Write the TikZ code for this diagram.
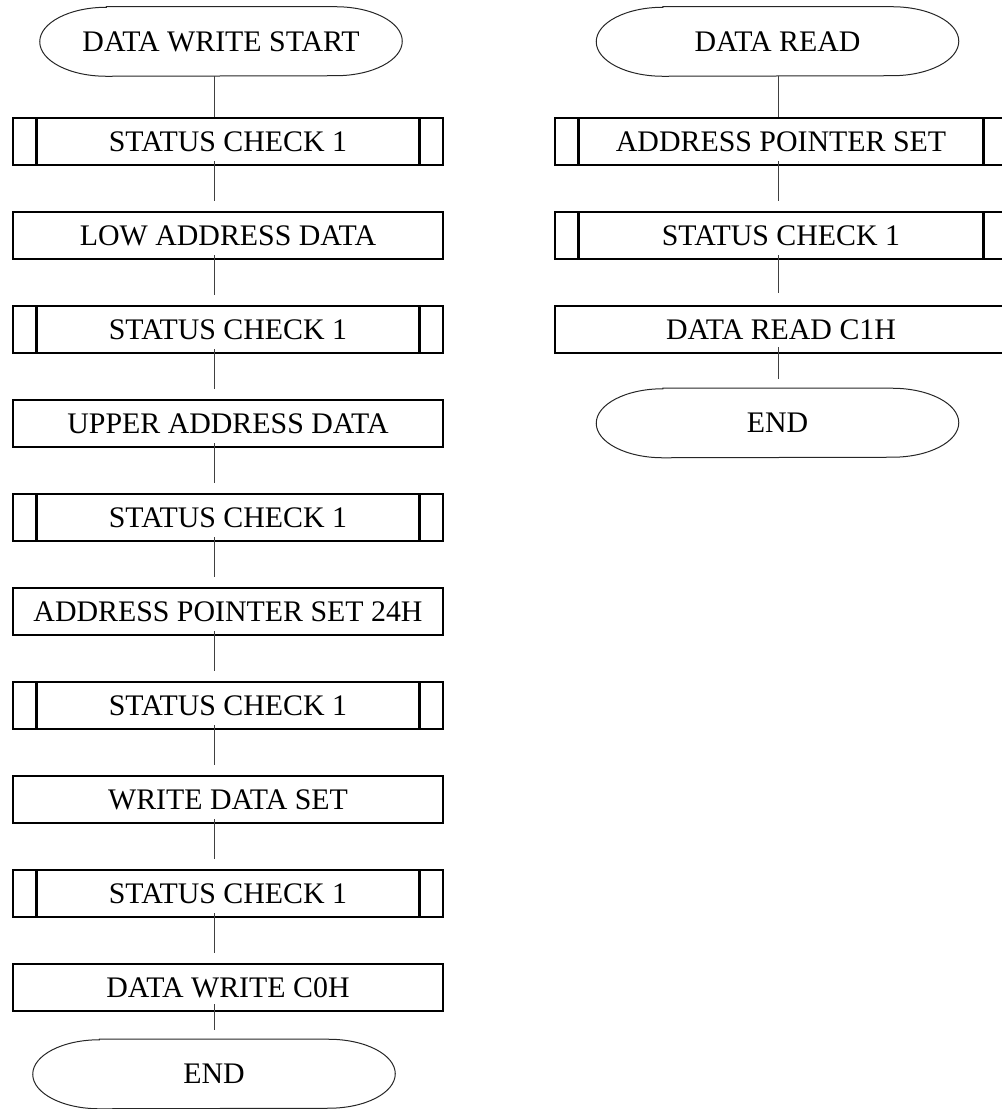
\documentclass[tikz,border=0pt]{standalone}
\usepackage{fontspec}
\setmainfont{Liberation Serif}
\usepackage{tikz}
\usetikzlibrary{calc}

\tikzset{
  every node/.style={font=\fontsize{22.4}{26}\selectfont, inner sep=0pt},
  procbox/.style={draw=black, line width=1.9pt, minimum width=322.5pt, minimum height=35.25pt},
  widebox/.style={procbox, minimum width=339pt},
  subproc/.style={path picture={
      \draw[line width=1.9pt]
        ([xshift=17.5pt]path picture bounding box.north west) -- ([xshift=17.5pt]path picture bounding box.south west)
        ([xshift=-17.5pt]path picture bounding box.north east) -- ([xshift=-17.5pt]path picture bounding box.south east);}},
  termnode/.style={minimum width=271.5pt, minimum height=51.75pt},
  termline/.style={draw=black!85, line width=0.75pt},
  link/.style={draw=black!75, line width=0.75pt},
}

% outline of a start/end terminal with elliptic ends
\newcommand\termedge[1]{%
  \draw[termline] ([xshift=50pt]#1.north west) -- ([xshift=-50pt]#1.north east)
    arc[start angle=90, end angle=-90, x radius=50pt, y radius=25.875pt]
    -- ([xshift=50pt]#1.south west)
    arc[start angle=-90, end angle=-270, x radius=50pt, y radius=25.875pt] -- cycle;}

\begin{document}
\begin{tikzpicture}[x=0.75pt, y=-0.75pt]
        \clip (0,0) rectangle (1002,1109);
        \coordinate (ls) at (214,0);
        \coordinate (rs) at (778,0);

        % data write
        \node(wstart) [termnode] at (221, 41.5) {DATA WRITE START};
        \termedge{wstart}
        \node(w1) [procbox, subproc] at (228, 141.5) {STATUS CHECK 1};
        \node(w2) [procbox] at (228, 235.5) {LOW ADDRESS DATA};
        \node(w3) [procbox, subproc] at (228, 329.5) {STATUS CHECK 1};
        \node(w4) [procbox] at (228, 423.5) {UPPER ADDRESS DATA};
        \node(w5) [procbox, subproc] at (228, 517.5) {STATUS CHECK 1};
        \node(w6) [procbox] at (228, 611.5) {ADDRESS POINTER SET 24H};
        \node(w7) [procbox, subproc] at (228, 705.5) {STATUS CHECK 1};
        \node(w8) [procbox] at (228, 799.5) {WRITE DATA SET};
        \node(w9) [procbox, subproc] at (228, 893.5) {STATUS CHECK 1};
        \node(w10) [procbox] at (228, 987.5) {DATA WRITE C0H};
        \node(wend) [termnode] at (214, 1074) {END};
        \termedge{wend}

        \draw[link] (wstart.south -| ls) -- (w1.north -| ls);
        \draw[link] ($(w1.south -| ls)+(0,-5)$) -- ($(w2.north -| ls)+(0,-10)$);
        \draw[link] ($(w2.south -| ls)+(0,-5)$) -- ($(w3.north -| ls)+(0,-10)$);
        \draw[link] ($(w3.south -| ls)+(0,-5)$) -- ($(w4.north -| ls)+(0,-10)$);
        \draw[link] ($(w4.south -| ls)+(0,-5)$) -- ($(w5.north -| ls)+(0,-10)$);
        \draw[link] ($(w5.south -| ls)+(0,-5)$) -- ($(w6.north -| ls)+(0,-10)$);
        \draw[link] ($(w6.south -| ls)+(0,-5)$) -- ($(w7.north -| ls)+(0,-10)$);
        \draw[link] ($(w7.south -| ls)+(0,-5)$) -- ($(w8.north -| ls)+(0,-10)$);
        \draw[link] ($(w8.south -| ls)+(0,-5)$) -- ($(w9.north -| ls)+(0,-10)$);
        \draw[link] ($(w9.south -| ls)+(0,-5)$) -- ($(w10.north -| ls)+(0,-10)$);
        \draw[link] ($(w10.south -| ls)+(0,-8)$) -- ($(wend.north -| ls)+(0,-9)$);

        % data read
        \node(rstart) [termnode] at (777.5, 41.5) {DATA READ};
        \termedge{rstart}
        \node(r1) [widebox, subproc] at (781, 141.5) {ADDRESS POINTER SET};
        \node(r2) [widebox, subproc] at (781, 235.5) {STATUS CHECK 1};
        \node(r3) [widebox] at (781, 329.5) {DATA READ C1H};
        \node(rend) [termnode] at (777.5, 423) {END};
        \termedge{rend}

        \draw[link] (rstart.south -| rs) -- (r1.north -| rs);
        \draw[link] ($(r1.south -| rs)+(0,-5)$) -- ($(r2.north -| rs)+(0,-10)$);
        \draw[link] ($(r2.south -| rs)+(0,-5)$) -- ($(r3.north -| rs)+(0,-12)$);
        \draw[link] ($(r3.south -| rs)+(0,-7)$) -- ($(rend.north -| rs)+(0,-9)$);
    \end{tikzpicture}
\end{document}
